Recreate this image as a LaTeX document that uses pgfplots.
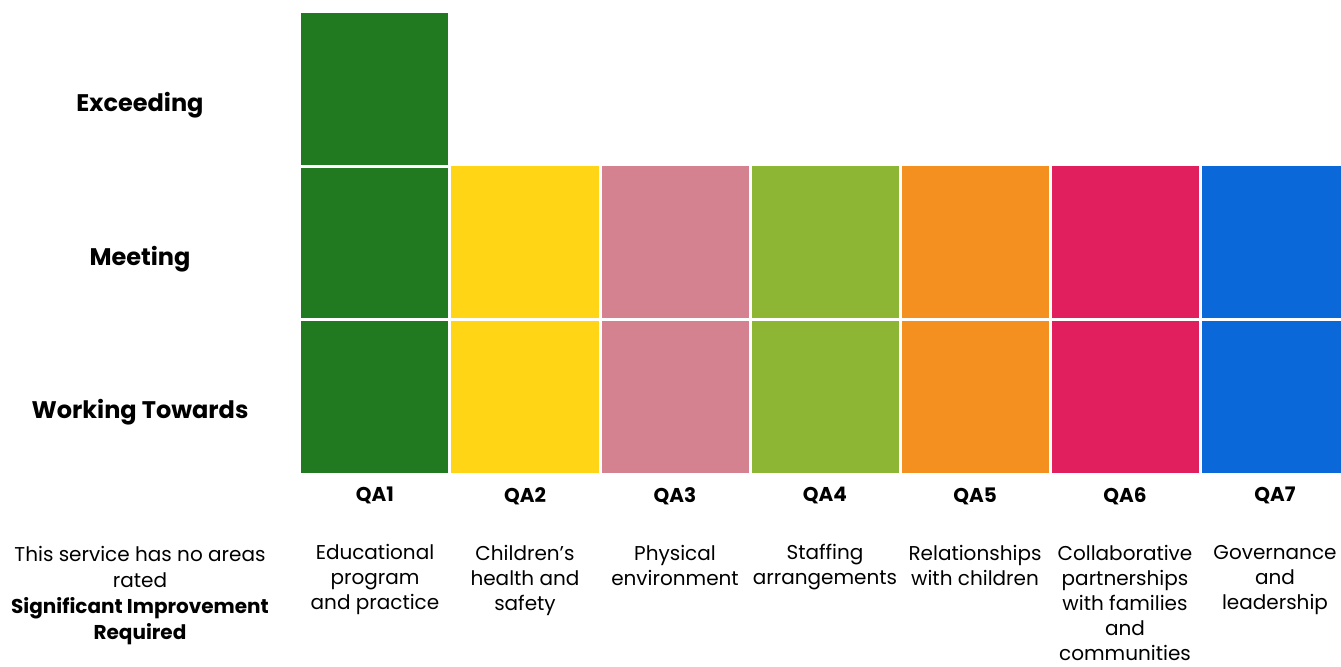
\documentclass[border=0pt]{standalone}
\usepackage{fontspec}
\setmainfont{Poppins}
\usepackage{pgfplots}
\pgfplotsset{compat=1.18}

\definecolor{qaone}{RGB}{34,122,32}
\definecolor{qatwo}{RGB}{255,213,22}
\definecolor{qathree}{RGB}{212,130,143}
\definecolor{qafour}{RGB}{140,182,52}
\definecolor{qafive}{RGB}{243,144,32}
\definecolor{qasix}{RGB}{225,30,94}
\definecolor{qaseven}{RGB}{10,104,216}

\begin{document}
\begin{tikzpicture}[x=1pt,y=1pt]
\path[use as bounding box] (0,0) rectangle (670.5,333.5);

\begin{axis}[
at={(150pt,97pt)}, anchor=south west,
scale only axis,
width=520.5pt, height=230pt,
xmin=-0.5, xmax=6.44,
ymin=0, ymax=3,
axis line style={draw=none},
major tick length=0pt,
ybar, bar width=0.98, bar shift=0pt,
xtick={0,1,2,3,4,5,6},
xticklabels={
  {\textbf{QA1}\\[16.5pt]Educational\\program\\and practice},
  {\textbf{QA2}\\[16.5pt]Children's\\health and\\safety},
  {\textbf{QA3}\\[16.5pt]Physical\\environment},
  {\textbf{QA4}\\[16.5pt]Staffing\\arrangements},
  {\textbf{QA5}\\[16.5pt]Relationships\\with children},
  {\textbf{QA6}\\[16.5pt]Collaborative\\partnerships\\with families\\and\\communities},
  {\textbf{QA7}\\[16.5pt]Governance\\and\\leadership}
},
xticklabel style={anchor=north, align=center, inner ysep=0.5pt, yshift=-6.5pt,
  font=\fontsize{10}{12.5}\selectfont},
ytick={0.5,1.5,2.5},
yticklabels={Working Towards, Meeting, Exceeding},
yticklabel style={anchor=center, xshift=-80pt, yshift=-8pt,
  font=\fontsize{12}{14}\selectfont\bfseries},
]
% rating reached in each quality area: 1 working towards, 2 meeting, 3 exceeding
\addplot[fill=qaone, draw=none] coordinates {(0,3)};
\addplot[fill=qatwo, draw=none] coordinates {(1,2)};
\addplot[fill=qathree, draw=none] coordinates {(2,2)};
\addplot[fill=qafour, draw=none] coordinates {(3,2)};
\addplot[fill=qafive, draw=none] coordinates {(4,2)};
\addplot[fill=qasix, draw=none] coordinates {(5,2)};
\addplot[fill=qaseven, draw=none] coordinates {(6,2)};
% white rules between the rating levels
\addplot[sharp plot, white, line width=1.5pt] coordinates {(-0.5,1) (6.5,1)};
\addplot[sharp plot, white, line width=1.5pt] coordinates {(-0.5,2) (0.5,2)};
\end{axis}

\node[anchor=north, align=center, inner sep=0pt,
  font=\fontsize{10}{12.9}\selectfont] at (70,60.5)
  {This service has no areas\\rated\\\textbf{Significant Improvement}\\\textbf{Required}};
\end{tikzpicture}
\end{document}
